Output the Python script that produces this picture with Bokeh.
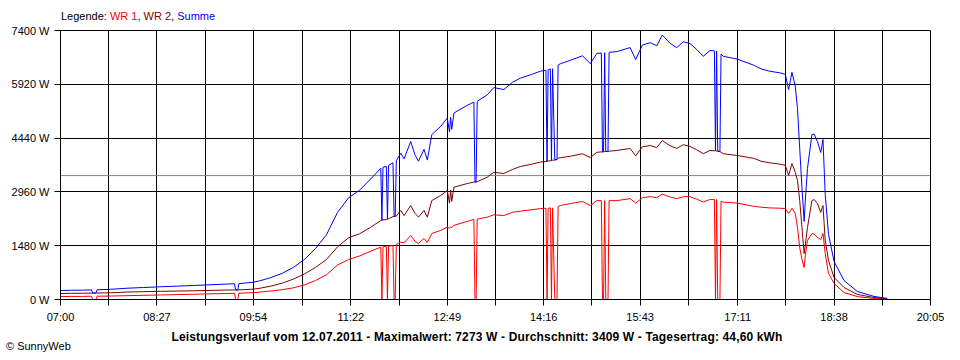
from bokeh.plotting import figure
from bokeh.models import Range1d, FixedTicker, Span, Div
from bokeh.layouts import column
from bokeh.embed import file_html
from bokeh.resources import INLINE

# ---- data ----
times = ["07:00", "07:10", "07:20", "07:28", "07:29", "07:32", "07:33", "07:45", "08:00", "08:15",
         "08:30", "08:45", "09:00", "09:15", "09:30", "09:37", "09:38", "09:40", "09:41", "09:54",
         "10:00", "10:10", "10:20", "10:30", "10:40", "10:50", "11:00", "11:10", "11:20", "11:30",
         "11:40", "11:49", "11:50", "11:51", "11:54", "11:55", "11:56", "12:00", "12:01", "12:02",
         "12:03", "12:07", "12:10", "12:16", "12:20", "12:23", "12:28", "12:31", "12:35", "12:43",
         "12:49", "12:51", "12:52", "12:53", "12:55", "13:07", "13:13", "13:14", "13:15", "13:16",
         "13:25", "13:31", "13:40", "13:48", "13:55", "14:05", "14:13", "14:18", "14:19", "14:20",
         "14:22", "14:23", "14:24", "14:26", "14:28", "14:29", "14:31", "14:40", "14:51", "14:58",
         "15:04", "15:08", "15:09", "15:10", "15:11", "15:12", "15:14", "15:15", "15:22", "15:34",
         "15:39", "15:45", "15:52", "15:58", "16:03", "16:10", "16:16", "16:22", "16:28", "16:34",
         "16:40", "16:46", "16:50", "16:51", "16:52", "16:53", "16:55", "16:56", "16:58", "17:11",
         "17:26", "17:32", "17:40", "17:50", "17:54", "17:57", "18:00", "18:03", "18:05", "18:07",
         "18:09", "18:11", "18:12", "18:14", "18:18", "18:20", "18:23", "18:26", "18:28", "18:30",
         "18:33", "18:38", "18:47", "18:59", "19:14", "19:26"]

wr1 = [80, 85, 85, 90, 0, 0, 90, 95, 105, 115,
       125, 135, 145, 155, 165, 170, 0, 0, 172, 190,
       205, 235, 270, 320, 400, 520, 680, 950, 1100, 1200,
       1330, 1440, 0, 1450, 1460, 0, 1470, 1480, 0, 0,
       1520, 1575, 1560, 1760, 1600, 1540, 1680, 1570, 1815, 1900,
       1990, 1960, 2000, 1980, 2040, 2150, 2200, 0, 0, 2210,
       2265, 2330, 2310, 2400, 2430, 2470, 2500, 2510, 0, 2510,
       2520, 0, 2520, 0, 0, 2560, 2585, 2640, 2695, 2585,
       2720, 2720, 0, 0, 2720, 0, 0, 2720, 2720, 2775,
       2650, 2800, 2830, 2800, 2900, 2820, 2775, 2830, 2830, 2760,
       2680, 2750, 2750, 0, 2750, 0, 0, 2700, 2680, 2650,
       2560, 2540, 2520, 2510, 2500, 2365, 2510, 2365, 1980, 1430,
       1100, 880, 1200, 1625, 1815, 1800, 1705, 1650, 1815, 1265,
       715, 440, 190, 80, 30, 10]

wr2 = [165, 170, 172, 175, 175, 178, 178, 185, 205, 215,
       225, 232, 240, 250, 260, 262, 262, 262, 265, 285,
       310, 370, 450, 560, 700, 880, 1100, 1450, 1700, 1810,
       1990, 2170, 2180, 2190, 2200, 2210, 2220, 2280, 2285, 2290,
       2295, 2450, 2310, 2585, 2365, 2265, 2450, 2265, 2720, 2860,
       3000, 2650, 3010, 2700, 3090, 3190, 3230, 3230, 3235, 3240,
       3365, 3500, 3465, 3580, 3660, 3720, 3780, 3800, 3800, 3810,
       3820, 3820, 3830, 3840, 3850, 3890, 3900, 3940, 4010, 3905,
       4050, 4060, 4060, 4065, 4070, 4070, 4075, 4080, 4100, 4155,
       3950, 4200, 4235, 4180, 4373, 4230, 4155, 4260, 4210, 4120,
       4010, 4100, 4090, 4090, 4085, 4080, 4070, 4050, 4010, 3960,
       3880, 3805, 3760, 3720, 3690, 3410, 3740, 3500, 3270, 2720,
       1980, 1265, 1500, 1980, 2720, 2750, 2640, 2395, 2585, 1625,
       1075, 605, 330, 140, 55, 20]

average_w = 3409

x_tick_labels = ["07:00", "08:27", "09:54", "11:22", "12:49", "14:16", "15:43", "17:11", "18:38", "20:05"]
y_ticks = [0, 1480, 2960, 4440, 5920, 7400]
y_tick_labels = ["0 W", "1480 W", "2960 W", "4440 W", "5920 W", "7400 W"]

series_names = ["WR 1", "WR 2", "Summe"]
series_colors = ["#ff0000", "#800000", "#0000ff"]

caption = "Leistungsverlauf vom 12.07.2011 - Maximalwert: 7273 W - Durchschnitt: 3409 W - Tagesertrag: 44,60 kWh"
copyright_text = "\u00a9 SunnyWeb"


def to_min(s):
    h, m = s.split(":")
    return int(h) * 60 + int(m)


x = [to_min(t) for t in times]
summe = [a + b for a, b in zip(wr1, wr2)]
xt = [to_min(s) for s in x_tick_labels]
mid = [(a + b) / 2 for a, b in zip(xt[:-1], xt[1:])]

FONT = "Liberation Sans"
W = 944

p = figure(width=W, height=304, output_backend="svg", toolbar_location=None, tools="",
           x_range=Range1d(xt[0], xt[-1]), y_range=Range1d(y_ticks[0], y_ticks[-1]),
           min_border_left=60, min_border_right=14, min_border_top=8, min_border_bottom=27,
           margin=0)
p.title.text = ""
p.background_fill_color = "white"
p.border_fill_color = "white"
p.outline_line_color = "black"
p.outline_line_width = 1

p.xaxis.ticker = FixedTicker(ticks=xt, minor_ticks=mid)
p.xaxis.major_label_overrides = {v: s for v, s in zip(xt, x_tick_labels)}
p.yaxis.ticker = FixedTicker(ticks=y_ticks, minor_ticks=[])
p.yaxis.major_label_overrides = {v: s for v, s in zip(y_ticks, y_tick_labels)}

for ax in (p.xaxis[0], p.yaxis[0]):
    ax.axis_line_color = "black"
    ax.major_tick_line_color = "black"
    ax.minor_tick_line_color = "black"
    ax.major_tick_in = 0
    ax.major_tick_out = 6
    ax.minor_tick_in = 0
    ax.minor_tick_out = 6
    ax.major_label_text_font = FONT
    ax.major_label_text_font_size = "11px"
    ax.major_label_text_color = "black"
p.xaxis.major_label_standoff = 5
p.yaxis.major_label_standoff = 5

p.xgrid.grid_line_color = "black"
p.xgrid.grid_line_alpha = 1
p.xgrid.minor_grid_line_color = "black"
p.xgrid.minor_grid_line_alpha = 1
p.ygrid.grid_line_color = "black"
p.ygrid.grid_line_alpha = 1

p.add_layout(Span(location=average_w, dimension="width", line_color="#808080",
                  line_width=1, level="underlay"))

for vals, col in zip([wr1, wr2, summe], series_colors):
    p.line(x, vals, line_color=col, line_width=1)

legend_html = ", ".join('<span style="color:%s">%s</span>' % (c, n) for n, c in zip(series_names, series_colors))
top_div = Div(width=W, height=22, margin=0, text=(
    '<div style="position:relative;width:%dpx;height:22px;font-family:\'%s\';font-size:11px;'
    'line-height:13px;color:#000;white-space:nowrap">'
    '<span style="position:absolute;left:61px;top:10px">Legende: %s</span></div>' % (W, FONT, legend_html)))

bottom_div = Div(width=W, height=26, margin=0, text=(
    '<div style="position:relative;width:%dpx;height:26px;font-family:\'%s\';font-size:11px;'
    'line-height:13px;color:#000;white-space:nowrap">'
    '<span style="position:absolute;left:477px;top:5px;transform:translateX(-50%%);font-weight:bold;'
    'font-size:12px;letter-spacing:0.15px">%s</span>'
    '<span style="position:absolute;left:6px;top:14px">%s</span></div>' % (W, FONT, caption, copyright_text)))

layout = column(top_div, p, bottom_div, spacing=0, margin=0)

open("out.html", "w").write(file_html(layout, INLINE))
